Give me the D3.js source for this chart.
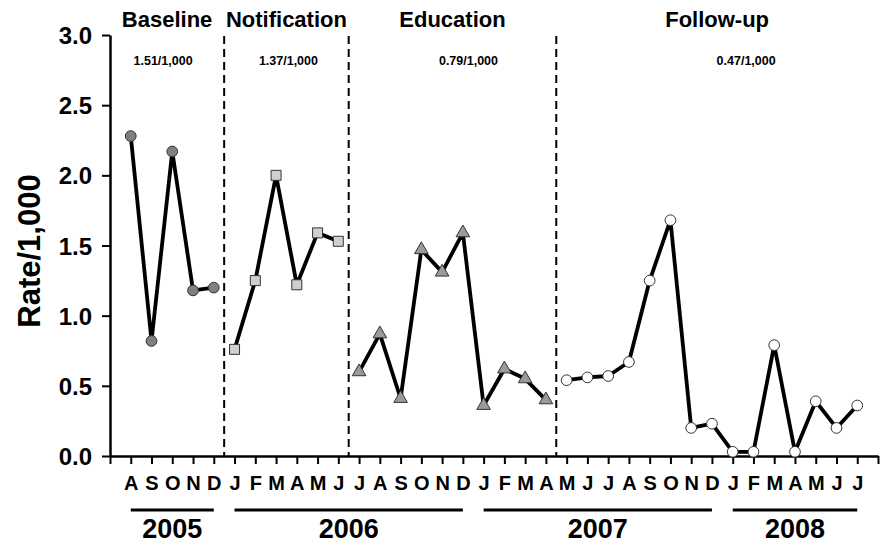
<!DOCTYPE html>
<html>
<head>
<meta charset="utf-8">
<script src="https://cdn.jsdelivr.net/npm/d3@7"></script>
<style>
  body { margin: 0; background: #fff; }
  text { font-family: Arial, "Liberation Sans", sans-serif; font-weight: bold; fill: #000; }
</style>
</head>
<body>
<div id="chart"></div>
<script>
var w = 890;
var h = 544;

// month labels, Aug 2005 .. Jul 2008
var months = ["A","S","O","N","D",
              "J","F","M","A","M","J","J","A","S","O","N","D",
              "J","F","M","A","M","J","J","A","S","O","N","D",
              "J","F","M","A","M","J","J"];
// monthly rate per 1,000
var rates = [2.28, 0.82, 2.17, 1.18, 1.20,
             0.76, 1.25, 2.00, 1.22, 1.59, 1.53,
             0.60, 0.87, 0.41, 1.47, 1.31, 1.59, 0.36, 0.62, 0.55, 0.40,
             0.54, 0.56, 0.57, 0.67, 1.25, 1.68, 0.20, 0.23, 0.03, 0.03, 0.79, 0.03, 0.39, 0.20, 0.36];

// phases
var phaseNames = ["Baseline", "Notification", "Education", "Follow-up"];
var phaseRates = ["1.51/1,000", "1.37/1,000", "0.79/1,000", "0.47/1,000"];
var phaseStart = [0, 5, 11, 21];
var phaseEnd   = [4, 10, 20, 35];

// years
var years     = ["2005", "2006", "2007", "2008"];
var yearStart = [0, 5, 17, 29];
var yearEnd   = [4, 16, 28, 35];

var yTicks = [0, 0.5, 1, 1.5, 2, 2.5, 3];

// layout
var plotLeft = 110, plotRight = 878, plotTop = 35, plotBottom = 456;
var rateLabelShift = [-4, 2, 16, 29];
var markerFill = ["#808080", "#d0d0d0", "#9a9a9a", "#ffffff"];

var svg = d3.select("#chart")
            .append("svg")
            .attr("width", w)
            .attr("height", h);

var xScale = d3.scaleLinear().domain([-1, 36]).range([plotLeft, plotRight]);
var yScale = d3.scaleLinear().domain([0, 3]).range([plotBottom, plotTop]);

// phase split lines
var splits = phaseStart.slice(1).map(d => d - 0.5);
svg.selectAll(".split")
    .data(splits)
    .enter()
    .append("line")
    .attr("x1", d => xScale(d))
    .attr("x2", d => xScale(d))
    .attr("y1", plotTop + 1)
    .attr("y2", plotBottom)
    .attr("stroke", "#000")
    .attr("stroke-width", 2)
    .attr("stroke-dasharray", "8,5");

// axes
var yAxis = d3.axisLeft(yScale)
              .tickValues(yTicks)
              .tickFormat(d3.format(".1f"))
              .tickSize(8)
              .tickSizeOuter(0)
              .tickPadding(10);
var gy = svg.append("g")
    .attr("transform", "translate(" + plotLeft + ",0)")
    .call(yAxis);
gy.selectAll("text").style("font-size", "24px").attr("dy", "0.36em");

var xAxis = d3.axisBottom(xScale)
              .tickValues(d3.range(-1, 37))
              .tickFormat(d => months[d] || "")
              .tickSize(8)
              .tickSizeOuter(0)
              .tickPadding(12);
var gx = svg.append("g")
    .attr("transform", "translate(0," + plotBottom + ")")
    .call(xAxis);
gx.selectAll("text").style("font-size", "20px");

svg.selectAll(".domain").attr("stroke-width", 2.5);
svg.selectAll(".tick line").attr("stroke-width", 2);

// y title
svg.append("text")
    .attr("transform", "translate(40,251) rotate(-90)")
    .attr("text-anchor", "middle")
    .style("font-size", "31px")
    .text("Rate/1,000");

// data line per phase
var line = d3.line()
    .x(d => xScale(d.i))
    .y(d => yScale(d.v));

phaseNames.forEach(function(name, p) {
    var pts = d3.range(phaseStart[p], phaseEnd[p] + 1).map(i => ({i: i, v: rates[i]}));
    svg.append("path")
        .datum(pts)
        .attr("d", line)
        .attr("fill", "none")
        .attr("stroke", "#000")
        .attr("stroke-width", 3.8)
        .attr("stroke-linejoin", "round");

    var shape = [d3.symbolCircle, d3.symbolSquare, d3.symbolTriangle, d3.symbolCircle][p];
    var size = [90, 100, 80, 90][p];
    svg.selectAll(".m" + p)
        .data(pts)
        .enter()
        .append("path")
        .attr("d", d3.symbol().type(shape).size(size))
        .attr("transform", d => "translate(" + xScale(d.i) + "," + yScale(d.v) + ")")
        .attr("fill", markerFill[p])
        .attr("stroke", "#333")
        .attr("stroke-width", 1);

    var lo = p === 0 ? -1 : phaseStart[p] - 0.5;
    var hi = p === 3 ? 36 : phaseEnd[p] + 0.5;
    var cx = (xScale(lo) + xScale(hi)) / 2;
    svg.append("text")
        .attr("x", cx)
        .attr("y", 27)
        .attr("text-anchor", "middle")
        .style("font-size", "22px")
        .text(name);
    svg.append("text")
        .attr("x", cx + rateLabelShift[p])
        .attr("y", 65)
        .attr("text-anchor", "middle")
        .style("font-size", "12.5px")
        .text(phaseRates[p]);
});

// year bars
years.forEach(function(y, k) {
    var x1 = xScale(yearStart[k]), x2 = xScale(yearEnd[k]);
    svg.append("line")
        .attr("x1", x1).attr("x2", x2)
        .attr("y1", 510).attr("y2", 510)
        .attr("stroke", "#000")
        .attr("stroke-width", 3);
    svg.append("text")
        .attr("x", (x1 + x2) / 2)
        .attr("y", 538)
        .attr("text-anchor", "middle")
        .style("font-size", "27px")
        .text(y);
});
</script>
</body>
</html>
